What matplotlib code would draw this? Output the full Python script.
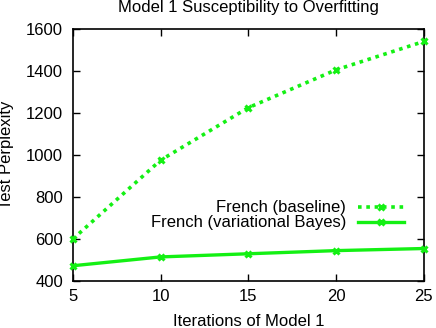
import matplotlib
matplotlib.use("Agg")
import matplotlib.pyplot as plt

plt.rcParams['font.family'] = ['Liberation Sans', 'DejaVu Sans']

# datos
iteraciones = [5, 10, 15, 20, 25]
baseline = [600, 975, 1225, 1405, 1540]
vb = [473, 515, 530, 545, 555]
ticks_y = [400, 600, 800, 1000, 1200, 1400, 1600]

VERDE = '#14f014'
FS = 12

fig = plt.figure(figsize=(4.36, 3.28), dpi=100)
ax = fig.add_axes([0.167, 0.143, 0.805, 0.769])

ax.plot(iteraciones, baseline, color=VERDE, linewidth=2.6, linestyle=(0, (1, 1.3)),
        marker='x', markersize=5, markeredgewidth=2.2, label='French (baseline)',
        clip_on=False, zorder=3)
ax.plot(iteraciones, vb, color=VERDE, linewidth=2.4, linestyle='-',
        marker='x', markersize=5, markeredgewidth=2.2, label='French (variational Bayes)',
        clip_on=False, zorder=3)

ax.set_xlim(5, 25)
ax.set_ylim(400, 1600)
ax.set_xticks(iteraciones)
ax.set_yticks(ticks_y)
ax.tick_params(direction='in', length=5, width=1, top=True, right=True,
               labelsize=FS)
ax.tick_params(axis='y', pad=7)
ax.tick_params(axis='x', pad=6)
for s in ax.spines.values():
    s.set_linewidth(1.2)

ax.set_title('Model 1 Susceptibility to Overfitting', fontsize=FS, pad=12)
ax.set_xlabel('Iterations of Model 1', fontsize=FS, labelpad=7)
ax.set_ylabel('Test Perplexity', fontsize=FS)
ax.yaxis.set_label_coords(-0.168, 0.5)

ax.legend(loc='lower right', bbox_to_anchor=(0.978, 0.155), frameon=False,
          markerfirst=False, fontsize=FS, handlelength=2.8, handletextpad=0.7,
          labelspacing=0.0, borderaxespad=0.3)

plt.savefig('out.png', dpi=100)
